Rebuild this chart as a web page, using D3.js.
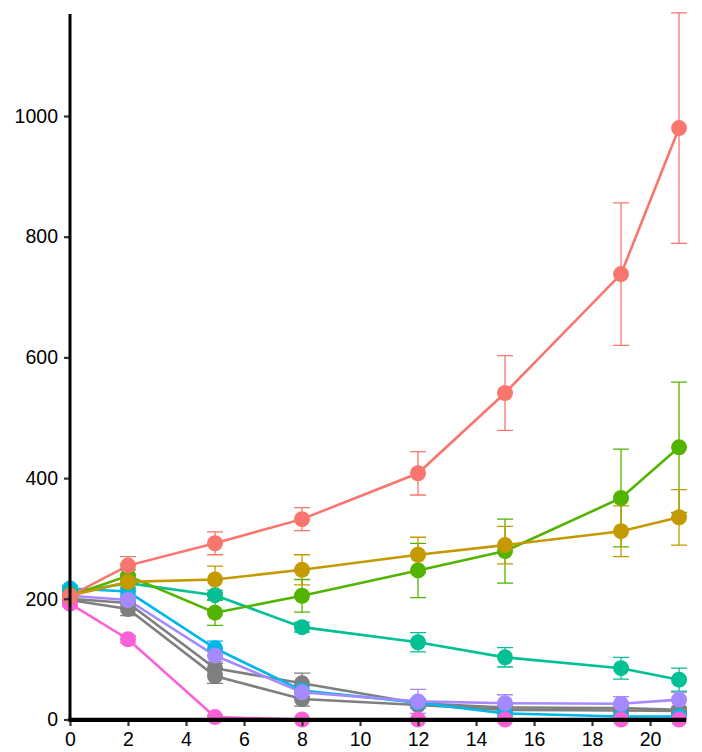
<!DOCTYPE html>
<html><head><meta charset="utf-8">
<script src="https://cdn.jsdelivr.net/npm/d3@7"></script>
<style>body{margin:0;background:#fff;} svg{display:block;}</style>
</head><body>
<svg id="c" width="702" height="752"></svg>
<script>
const days = [0, 2, 5, 8, 12, 15, 19, 21];
const xTicks = [0, 2, 4, 6, 8, 10, 12, 14, 16, 18, 20];
const yTicks = [0, 200, 400, 600, 800, 1000];

const gray1Mean = [200, 193, 85, 60, 27, 20, 19, 16];
const gray1Err  = [4, 8, 8, 17, 5, 5, 4, 4];
const gray2Mean = [198, 183, 72, 34, 24, 16, 15, 14];
const gray2Err  = [4, 11, 12, 12, 5, 4, 4, 4];
const cyanMean  = [217, 212, 118, 48, 28, 10, 5, 5];
const cyanErr   = [5, 6, 12, 10, 6, 4, 3, 3];
const purpleMean= [205, 198, 106, 45, 30, 27, 26, 33];
const purpleErr = [4, 6, 10, 10, 20, 14, 12, 12];
const pinkMean  = [192, 133, 4, 0, 0, 0, 0, 0];
const pinkErr   = [4, 6, 3, 1, 0, 0, 0, 0];
const tealMean  = [210, 226, 206, 153, 128, 103, 85, 66];
const tealErr   = [5, 8, 8, 8, 16, 16, 18, 19];
const greenMean = [205, 238, 177, 205, 247, 279, 367, 451];
const greenErr  = [5, 10, 21, 27, 45, 53, 81, 108];
const goldMean  = [205, 228, 232, 248, 273, 289, 312, 335];
const goldErr   = [5, 10, 22, 25, 29, 31, 42, 46];
const redMean   = [205, 255, 292, 332, 408, 541, 738, 980];
const redErr    = [5, 15, 19, 19, 36, 62, 118, 191];

const seriesNames = ["gray1","gray2","cyan","purple","pink","teal","green","gold","red"];
const seriesColors = ["#7F7F7F","#7F7F7F","#00B6EB","#A58AFF","#FB61D7","#00C094","#53B400","#C49A00","#F8766D"];
const seriesMeans = [gray1Mean,gray2Mean,cyanMean,purpleMean,pinkMean,tealMean,greenMean,goldMean,redMean];
const seriesErrs  = [gray1Err,gray2Err,cyanErr,purpleErr,pinkErr,tealErr,greenErr,goldErr,redErr];

const series = seriesNames.map((n,i)=>({
  name:n, color:seriesColors[i],
  pts: days.map((d,j)=>({d, v:seriesMeans[i][j], e:seriesErrs[i][j]}))
}));

const svg = d3.select("#c");
const x = d3.scaleLinear().domain([0, 21.24]).range([70, 686]);
const y = d3.scaleLinear().domain([0, 1169]).range([719.5, 14]);

const line = d3.line().x(p=>x(p.d)).y(p=>y(p.v));

// lines
svg.append("g").selectAll("path").data(series).join("path")
  .attr("d", s=>line(s.pts)).attr("fill","none")
  .attr("stroke", s=>s.color).attr("stroke-width", 2.6);

// error bars
const eb = svg.append("g").selectAll("g").data(series).join("g")
  .attr("stroke", s=>s.color).attr("stroke-width", 1.3).attr("fill","none");
eb.selectAll("path").data(s=>s.pts.filter(p=>p.e>0.5)).join("path")
  .attr("d", p=>{
    const cx=x(p.d), t=y(p.v+p.e), b=y(p.v-p.e), w=8;
    return `M${cx-w},${t}H${cx+w}M${cx},${t}V${b}M${cx-w},${b}H${cx+w}`;
  });

// points
const pg = svg.append("g").selectAll("g").data(series).join("g").attr("fill", s=>s.color);
pg.selectAll("circle").data(s=>s.pts).join("circle")
  .attr("cx", p=>x(p.d)).attr("cy", p=>y(p.v)).attr("r", 8);

// axes
const font = "'Liberation Sans', Arial, sans-serif";
const yAxis = svg.append("g").attr("transform","translate(70,0)")
  .call(d3.axisLeft(y).tickValues(yTicks).tickSize(6).tickPadding(6).tickFormat(d3.format("d")));
const xAxis = svg.append("g").attr("transform","translate(0,720)")
  .call(d3.axisBottom(x).tickValues(xTicks).tickSize(6).tickPadding(6).tickFormat(d3.format("d")));
[yAxis, xAxis].forEach(a=>{
  a.select(".domain").remove();
  a.selectAll(".tick line").attr("stroke","#333").attr("stroke-width",2.2);
  a.selectAll(".tick text").attr("fill","#000").style("font-family",font).style("font-size","19.5px");
});
// axis lines
svg.append("line").attr("x1",70).attr("x2",70).attr("y1",y(1169)).attr("y2",721)
  .attr("stroke","#000").attr("stroke-width",3);
svg.append("line").attr("x1",68.5).attr("x2",686).attr("y1",719.8).attr("y2",719.8)
  .attr("stroke","#000").attr("stroke-width",4.2);
</script>
</body></html>
